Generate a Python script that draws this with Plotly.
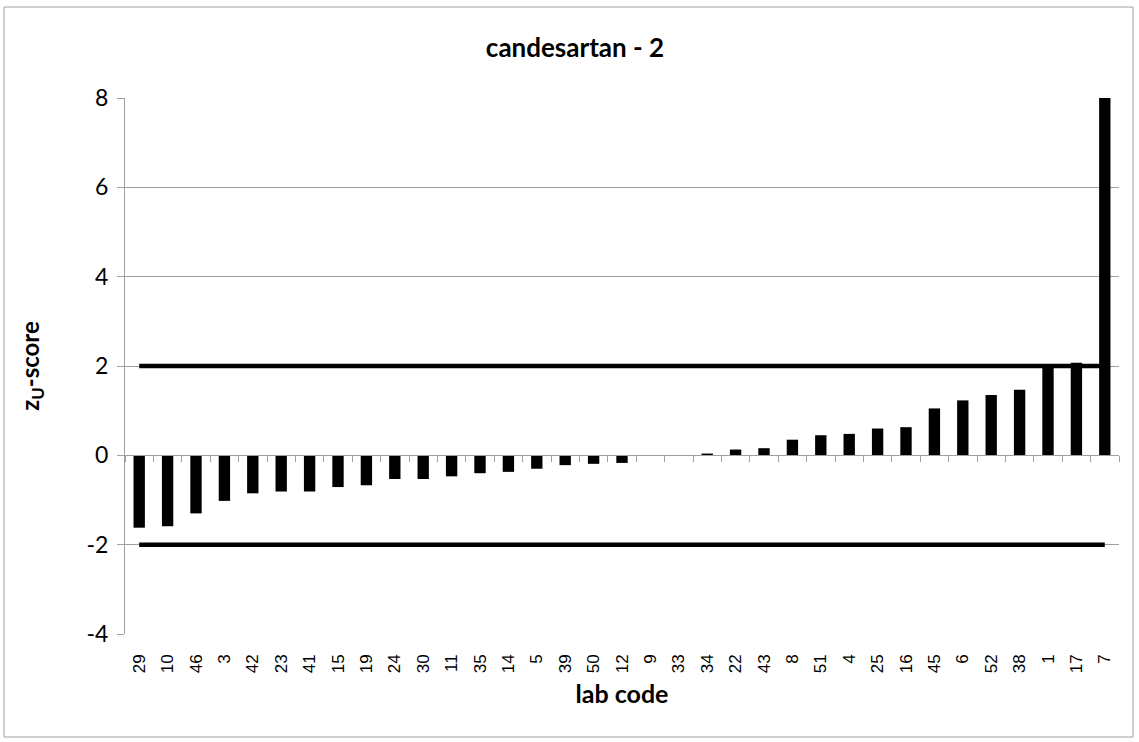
import plotly.graph_objects as go

lab_codes = ["29", "10", "46", "3", "42", "23", "41", "15", "19", "24", "30", "11",
             "35", "14", "5", "39", "50", "12", "9", "33", "34", "22", "43", "8",
             "51", "4", "25", "16", "45", "6", "52", "38", "1", "17", "7"]
z_scores = [-1.62, -1.59, -1.30, -1.02, -0.85, -0.81, -0.81, -0.71, -0.67, -0.53, -0.53, -0.47,
            -0.40, -0.37, -0.30, -0.22, -0.19, -0.17, 0.0, 0.0, 0.04, 0.13, 0.16, 0.35,
            0.45, 0.48, 0.60, 0.63, 1.05, 1.23, 1.35, 1.47, 1.99, 2.07, 8.6]
upper_limit = 2
lower_limit = -2
y_ticks = [-4, -2, 0, 2, 4, 6, 8]
y_tick_text = ["-4", "-2", "0", "2", "4", "6", "8"]

W, H = 1139, 742
L, R, T, B = 125, 20, 98, 108
pw, ph = W - L - R, H - T - B

fig = go.Figure()
fig.add_trace(go.Bar(x=lab_codes, y=z_scores, width=0.4,
                     marker=dict(color="black", line=dict(width=0)),
                     showlegend=False, hoverinfo="x+y"))
for lim in (upper_limit, lower_limit):
    fig.add_trace(go.Scatter(x=[lab_codes[0], lab_codes[-1]], y=[lim, lim], mode="lines",
                             line=dict(color="black", width=4.5), xaxis="x2",
                             showlegend=False, hoverinfo="skip"))

grid = "#a0a0a0"
fig.update_layout(
    width=W, height=H,
    margin=dict(l=L, r=R, t=T, b=B, autoexpand=False),
    paper_bgcolor="white", plot_bgcolor="white",
    title=dict(text="<b>candesartan - 2</b>", x=575 / W, xref="container", xanchor="center",
               y=1 - 48 / H, yref="container", yanchor="middle",
               font=dict(family="Lato", size=26, color="black")),
    xaxis=dict(type="category", categoryorder="array", categoryarray=lab_codes,
               range=[-0.5, len(lab_codes) - 0.5], automargin=False,
               showgrid=False, showline=False, zeroline=False, ticks="",
               tickangle=-90, ticklabelstandoff=16,
               tickfont=dict(family="Liberation Sans", size=17, color="black"),
               title=dict(text="<b>lab code</b>", standoff=13,
                          font=dict(family="Lato", size=25, color="black"))),
    xaxis2=dict(type="category", categoryorder="array", categoryarray=lab_codes,
                range=[-0.5, len(lab_codes) - 0.5], overlaying="x", anchor="free",
                position=(0 - y_ticks[0]) / (y_ticks[-1] - y_ticks[0]), automargin=False,
                showgrid=False, showline=True, linecolor=grid, linewidth=1,
                ticks="outside", tickson="boundaries", ticklen=6, tickcolor=grid,
                showticklabels=False, zeroline=False),
    yaxis=dict(range=[y_ticks[0], y_ticks[-1]], tickvals=y_ticks, ticktext=y_tick_text,
               automargin=False,
               showgrid=True, gridcolor=grid, gridwidth=1, zeroline=False,
               showline=True, linecolor=grid, linewidth=1,
               ticks="outside", ticklen=7, tickcolor=grid, ticklabelstandoff=4,
               tickfont=dict(family="Lato", size=23, color="black"),
               title=dict(text="<b>z<sub>U</sub>-score</b>", standoff=40,
                          font=dict(family="Lato", size=24, color="black"))),
    shapes=[dict(type="rect", xref="paper", yref="paper",
                 x0=(4 - L) / pw, x1=(W - 6 - L) / pw,
                 y0=-(H - 5 - (T + ph)) / ph, y1=(T + ph - 7) / ph,
                 line=dict(color="#a0a0a0", width=1), fillcolor="rgba(0,0,0,0)", layer="below")],
)

fig.write_html("out.html", config={"displayModeBar": False},
               post_script="document.body.style.margin='0';")
